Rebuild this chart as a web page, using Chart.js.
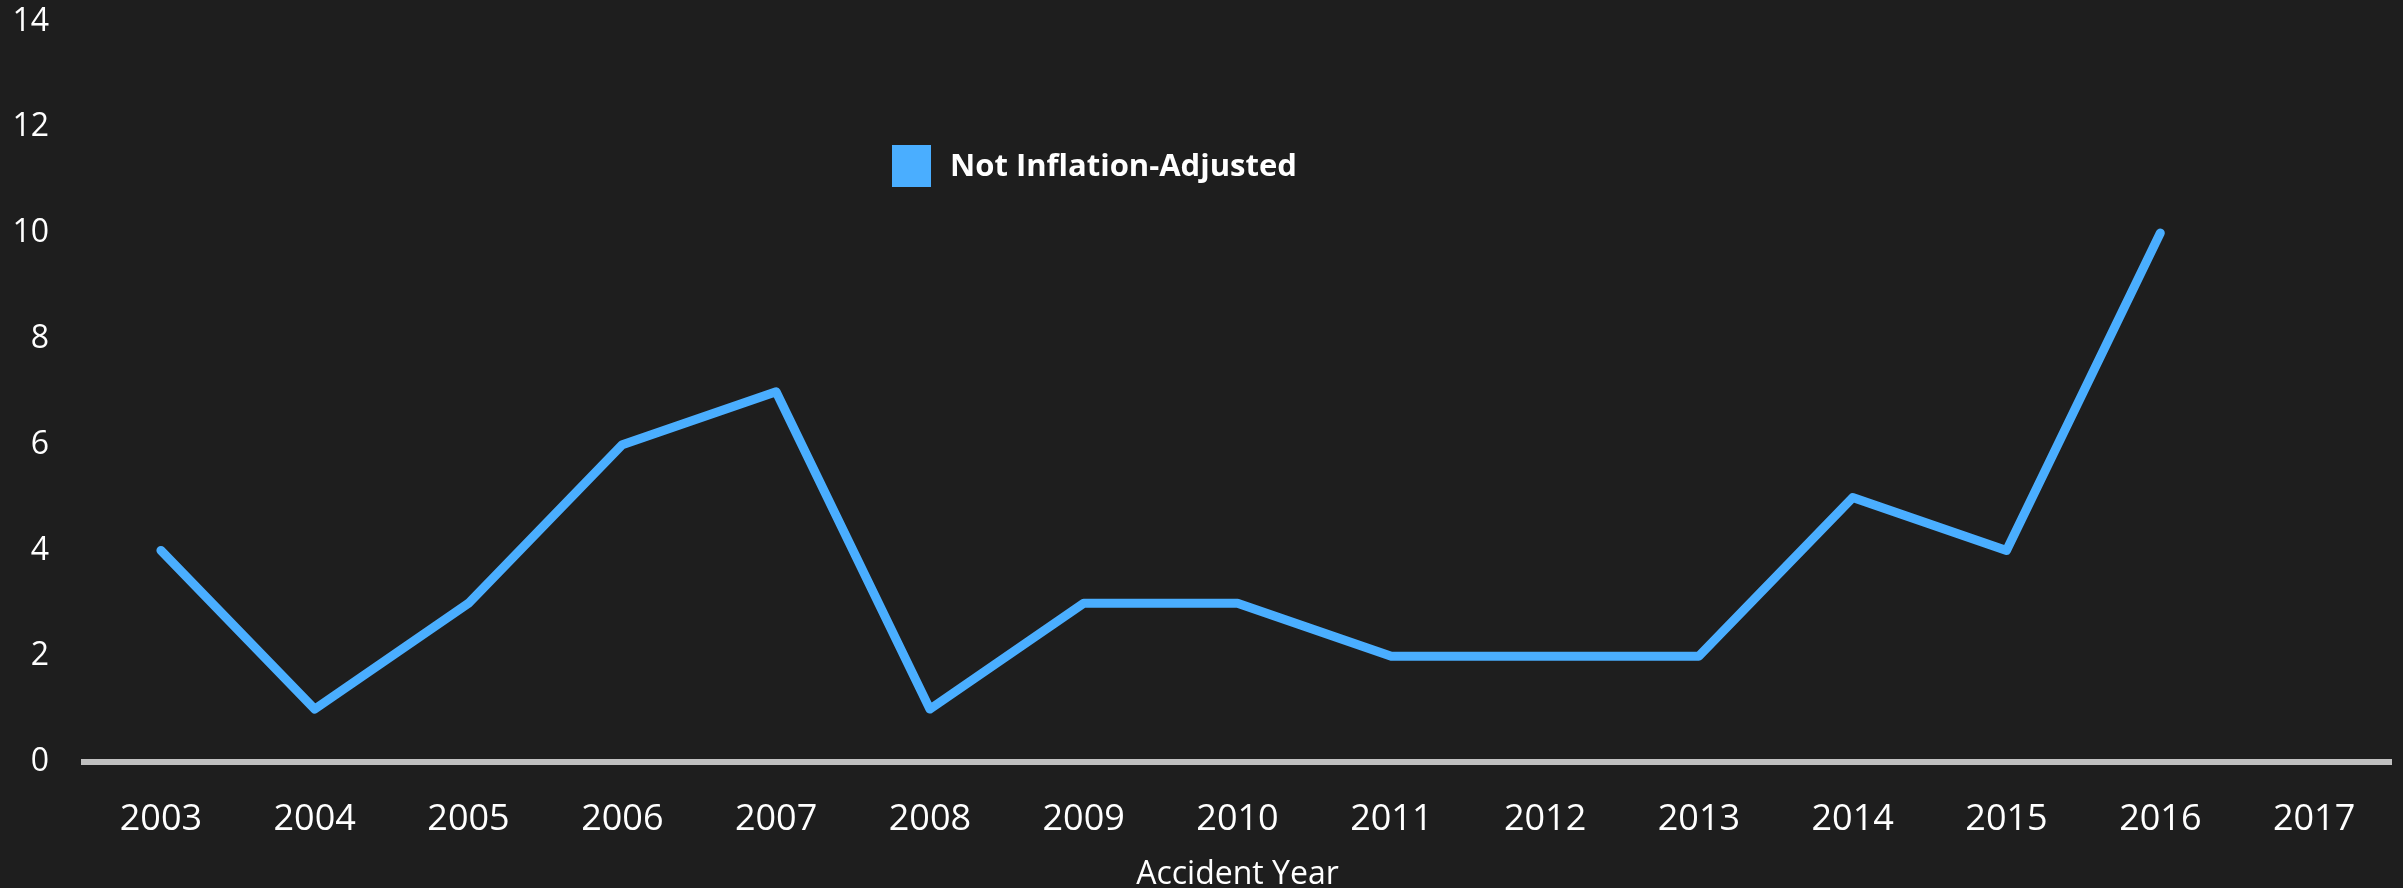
<!DOCTYPE html>
<html>
<head>
<meta charset="utf-8">
<script src="https://cdn.jsdelivr.net/npm/chart.js@4.4.1/dist/chart.umd.min.js"></script>
<style>
  html, body { margin: 0; padding: 0; background: #1e1e1e; }
  #wrap { width: 2403px; height: 888px; }
</style>
</head>
<body>
<div id="wrap"><canvas id="c" width="2403" height="888"></canvas></div>
<script>
// Claim counts by accident year
const years = ['2003', '2004', '2005', '2006', '2007', '2008', '2009', '2010',
               '2011', '2012', '2013', '2014', '2015', '2016', '2017'];
const notInflationAdjusted = [4, 1, 3, 6, 7, 1, 3, 3, 2, 2, 2, 5, 4, 10, null];
const seriesLabel = 'Not Inflation-Adjusted';
const yTicks = [0, 2, 4, 6, 8, 10, 12, 14];

const FONT = '"Open Sans", "Noto Sans", sans-serif';
const LINE_BLUE = '#4aaeff';

// Legend drawn as a floating key inside the plot area
const floatingLegend = {
  id: 'floatingLegend',
  afterDraw(chart) {
    const ctx = chart.ctx;
    const ds = chart.data.datasets[0];
    ctx.save();
    ctx.fillStyle = ds.borderColor;
    ctx.fillRect(892, 145, 39, 42);
    ctx.fillStyle = '#ffffff';
    ctx.font = 'bold 31px ' + FONT;
    ctx.textBaseline = 'middle';
    ctx.textAlign = 'left';
    ctx.fillText(ds.label, 950, 167);
    ctx.restore();
  }
};

new Chart(document.getElementById('c'), {
  type: 'line',
  data: {
    labels: years,
    datasets: [{
      label: seriesLabel,
      data: notInflationAdjusted,
      borderColor: LINE_BLUE,
      backgroundColor: LINE_BLUE,
      borderWidth: 9,
      borderCapStyle: 'round',
      borderJoinStyle: 'round',
      pointRadius: 0,
      tension: 0,
      spanGaps: false
    }]
  },
  options: {
    responsive: false,
    animation: false,
    layout: { padding: { top: 21.5, right: 12, left: 0, bottom: 0 } },
    plugins: {
      legend: { display: false },
      tooltip: { enabled: false }
    },
    scales: {
      x: {
        offset: true,
        grid: { display: false, drawTicks: false },
        border: { display: true, color: '#c0c0c0', width: 6 },
        ticks: {
          color: '#ffffff',
          font: { family: FONT, size: 36 },
          padding: 36,
          maxRotation: 0,
          autoSkip: false
        },
        title: {
          display: true,
          text: 'Accident Year',
          color: '#ffffff',
          font: { family: FONT, size: 32, lineHeight: 1 },
          padding: { top: 4, bottom: -3 }
        },
        afterFit(scale) { scale.height = 126; }
      },
      y: {
        min: 0,
        max: 14,
        afterBuildTicks(scale) { scale.ticks = yTicks.map(v => ({ value: v })); },
        grid: { display: false, drawTicks: false },
        border: { display: false },
        ticks: {
          color: '#ffffff',
          font: { family: FONT, size: 32 },
          padding: 35
        },
        afterFit(scale) {
          scale.width = 84;
          scale.paddingTop = 0;
          scale.paddingBottom = 0;
        }
      }
    }
  },
  plugins: [floatingLegend]
});
</script>
</body>
</html>
